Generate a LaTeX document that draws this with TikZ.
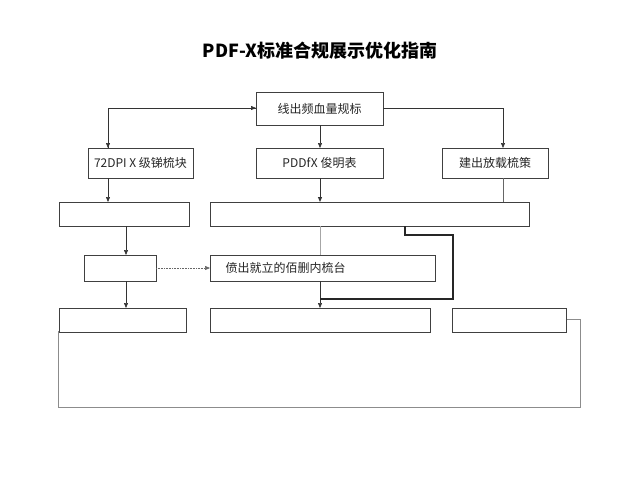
\documentclass[tikz,border=0pt]{standalone}
\usepackage{fontspec}
\setmainfont{Noto Sans CJK SC}
\usetikzlibrary{arrows.meta}
\begin{document}
\begin{tikzpicture}[x=1pt,y=-1pt,
 bx/.style={draw=black!75,line width=0.7pt,fill=white},
 ar/.style={-{Triangle[length=5pt,width=4pt]},draw=black!80,line width=0.6pt},
 lbl/.style={font=\fontsize{12}{14}\selectfont,text=black!85}]
\useasboundingbox (0,0) rectangle (640,480);
\node[font=\bfseries\fontsize{18}{22}\selectfont] (title) at (320,51) {PDF-X标准合规展示优化指南};
\draw[black!45,line width=0.7pt] (58,331) -- (58,407) -- (580,407) -- (580,319) -- (566,319);
\draw[bx] (256,92) rectangle (383,125); \node[lbl] (top) at (319.5,108.5) {线出频血量规标};
\coordinate (topL) at (256,108); \coordinate (topR) at (383,108); \coordinate (topB) at (320,125);
\draw[bx] (88,148) rectangle (193,178); \node[lbl] (a) at (140.5,163) {72DPI X 级锑梳块};
\draw[bx] (256,148) rectangle (383,178); \node[lbl] (b) at (319.5,163) {PDDfX 俊明表};
\draw[bx] (442,148) rectangle (548,178); \node[lbl] (c) at (495,163) {建出放载梳策};
\draw[bx] (59,202) rectangle (189,226);
\draw[bx] (210,202) rectangle (529,226);
\draw[bx] (84,255) rectangle (156,281);
\draw[bx] (210,255) rectangle (435,281); \node[lbl,anchor=west] (g) at (222,268) {偾出就立的佰删内梳台};
\draw[bx] (59,308) rectangle (186,332);
\draw[bx] (210,308) rectangle (430,332);
\draw[bx] (452,308) rectangle (566,332);
\coordinate (aT) at (108,148); \coordinate (cT) at (503,148);
\draw[ar] (108,148) -- (108,108) -- (topL);
\draw[ar] (topL) -- (108,108) -- (aT);
\draw[ar] (topR) -- (503,108) -- (cT);
\draw[ar] (topB) -- (320,148);
\draw[ar] (108,178) -- (108,202);
\draw[ar,line width=1pt] (320,178) -- (320,202);
\draw[black!60,line width=0.6pt] (503,178) -- (503,202);
\draw[ar] (126,226) -- (126,255);
\draw[ar] (126,281) -- (126,308);
\draw[ar,densely dotted,black!60] (156,268) -- (210,268);
\draw[black!35,line width=0.5pt] (320,226) -- (320,255);
\draw[ar] (320,281) -- (320,308);
\draw[line width=1.2pt,black!85] (405,226) -- (405,235) -- (453,235) -- (453,299) -- (320,299);
\end{tikzpicture}
\end{document}
